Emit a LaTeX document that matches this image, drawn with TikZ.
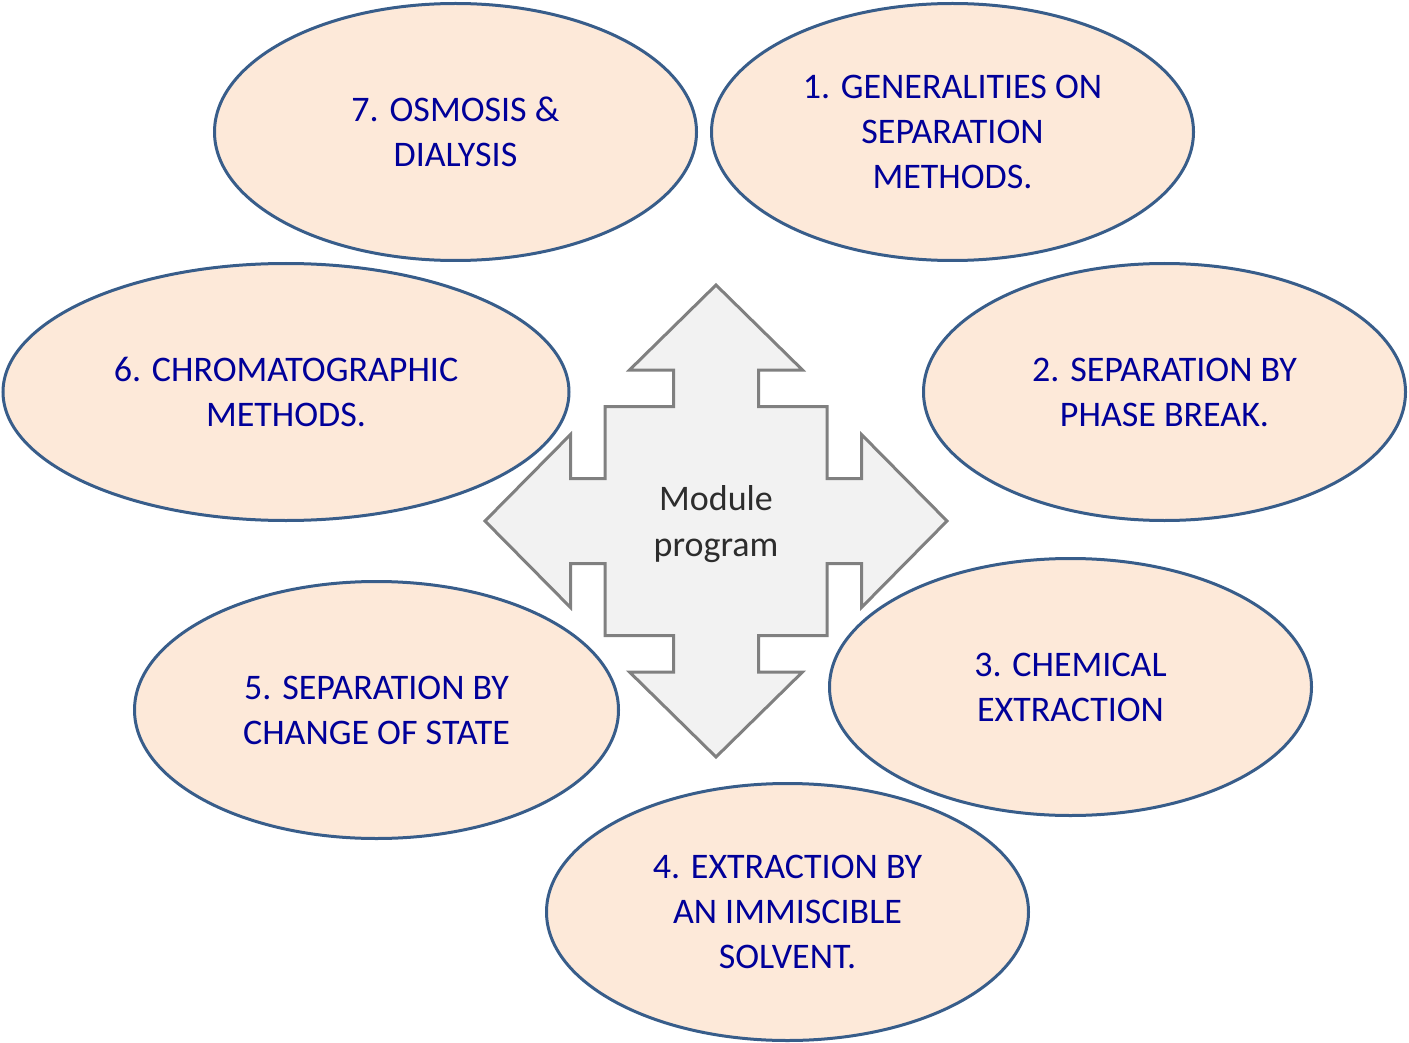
\documentclass[tikz,border=0pt]{standalone}
\usepackage{fontspec}
\setmainfont{Carlito}
\usetikzlibrary{shapes.geometric}
\definecolor{txtblue}{RGB}{0,0,153}
\definecolor{elfill}{RGB}{253,233,217}
\definecolor{eldraw}{RGB}{56,93,138}
\definecolor{arfill}{RGB}{242,242,242}
\definecolor{ardraw}{RGB}{128,128,128}
\definecolor{artext}{RGB}{45,45,45}
\tikzset{
  topic/.style={ellipse, draw=eldraw, fill=elfill, line width=3pt, inner sep=0pt,
    minimum width=482pt, minimum height=257pt, align=center, text=txtblue,
    font=\fontsize{36}{45}\selectfont},
  quadarrow/.style={draw=ardraw, fill=arfill, line width=3pt, line join=miter},
  centertext/.style={align=center, text=artext, font=\fontsize{36}{46}\selectfont}
}
\begin{document}
\begin{tikzpicture}[x=1pt,y=-1pt]
\useasboundingbox (0,0) rectangle (1409,1043);
% center quad arrow
\coordinate (c) at (716,521);
\draw[quadarrow] ([shift={(0,-236)}]c) -- ++(86.5,85) -- ++(-44,0) -- ++(0,36.5) -- ++(68.5,0)
  -- ++(0,72) -- ++(34.5,0) -- ++(0,-44) -- ++(85.5,86.5) -- ++(-85.5,86.5) -- ++(0,-44)
  -- ++(-34.5,0) -- ++(0,72) -- ++(-68.5,0) -- ++(0,36.5) -- ++(44,0) -- ++(-86.5,85)
  -- ++(-86.5,-85) -- ++(44,0) -- ++(0,-36.5) -- ++(-68.5,0) -- ++(0,-72) -- ++(-34.5,0)
  -- ++(0,44) -- ++(-85.5,-86.5) -- ++(85.5,-86.5) -- ++(0,44) -- ++(34.5,0) -- ++(0,-72)
  -- ++(68.5,0) -- ++(0,-36.5) -- ++(-44,0) -- cycle;
\node[centertext] (center) at (716,524) {Module\\program};
% topics
\node[topic] (t1) at (952.5,132) {1. GENERALITIES ON\\SEPARATION\\METHODS.};
\node[topic] (t7) at (455.5,132) {7. OSMOSIS \&\\DIALYSIS};
\node[topic, minimum width=566pt] (t6) at (286,392) {6. CHROMATOGRAPHIC\\METHODS.};
\node[topic] (t2) at (1164.5,392) {2. SEPARATION BY\\PHASE BREAK.};
\node[topic] (t3) at (1070.5,687) {3. CHEMICAL\\EXTRACTION};
\node[topic, minimum width=484pt] (t5) at (376.5,710) {5. SEPARATION BY\\CHANGE OF STATE};
\node[topic] (t4) at (787.5,912) {4. EXTRACTION BY\\AN IMMISCIBLE\\SOLVENT.};
\end{tikzpicture}
\end{document}
